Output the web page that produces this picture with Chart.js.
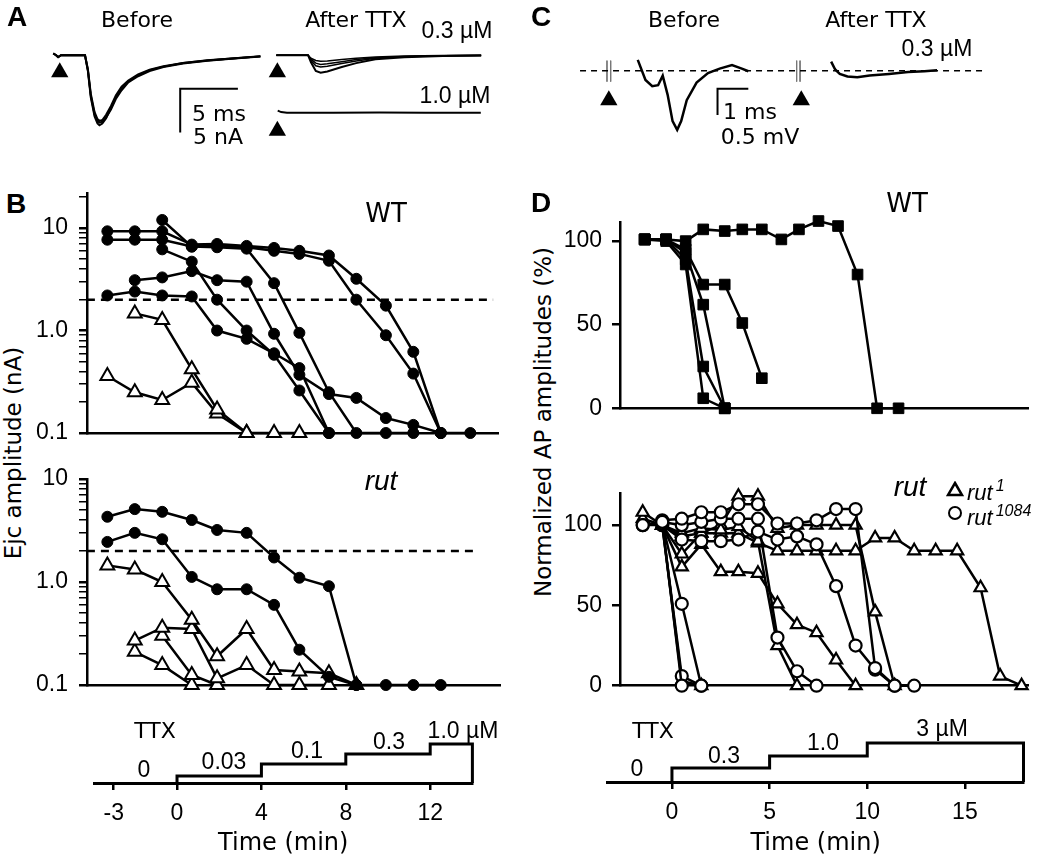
<!DOCTYPE html>
<html>
<head>
<meta charset="utf-8">
<script src="https://cdn.jsdelivr.net/npm/chart.js@4.4.0/dist/chart.umd.min.js"></script>
<style>
  html, body { margin: 0; padding: 0; background: #fff; }
  #fig { position: relative; width: 1050px; height: 855px; overflow: hidden; color: #000;
         font-family: 'Liberation Sans', Arial, sans-serif; }
  canvas { position: absolute; }
  .t { position: absolute; transform: translate(-50%, -50%); white-space: nowrap; line-height: 1; }
  .w { font-family: 'DejaVu Sans', sans-serif; font-size: 22px; }
  .n { font-size: 23px; }
  .p { font-weight: bold; font-size: 28px; }
  .it { font-style: italic; font-size: 28px; }
  .big { font-size: 26px; }
  .rot { font-size: 23px; transform: translate(-50%, -50%) rotate(-90deg); }
  .lg { position: absolute; font-size: 22px; line-height: 1; white-space: nowrap; font-style: italic; }
  .lg sup { font-size: 16px; vertical-align: 9px; margin-left: 3px; }
  .sym { position: absolute; }
</style>
</head>
<body>
<div id="fig">
  <canvas id="cA"></canvas>
  <canvas id="cC"></canvas>
  <canvas id="cB1"></canvas>
  <canvas id="cB2"></canvas>
  <canvas id="cB3"></canvas>
  <canvas id="cD1"></canvas>
  <canvas id="cD2"></canvas>
  <canvas id="cD3"></canvas>

  <!-- panel A -->
  <div class="t p" style="left:17px;top:17px">A</div>
  <div class="t w" style="left:137px;top:20px">Before</div>
  <div class="t w" style="left:356px;top:20px">After TTX</div>
  <div class="t n" style="left:457px;top:30px">0.3 µM</div>
  <div class="t n" style="left:455px;top:95px">1.0 µM</div>
  <div class="t w" style="left:219px;top:114px">5 ms</div>
  <div class="t w" style="left:218px;top:137px">5 nA</div>

  <!-- panel C -->
  <div class="t p" style="left:541px;top:17px">C</div>
  <div class="t w" style="left:684px;top:20px">Before</div>
  <div class="t w" style="left:876px;top:20px">After TTX</div>
  <div class="t n" style="left:937px;top:48px">0.3 µM</div>
  <div class="t w" style="left:750px;top:112px">1 ms</div>
  <div class="t w" style="left:760px;top:137px">0.5 mV</div>

  <!-- panel B -->
  <div class="t p" style="left:16px;top:204px">B</div>
  <div class="t w big" style="left:386px;top:213px">WT</div>
  <div class="t it" style="left:381px;top:481px">rut</div>
  <div class="t w rot" style="left:13px;top:453px">Ejc amplitude (nA)</div>
  <div class="t w" style="left:155px;top:731px">TTX</div>
  <div class="t n" style="left:144px;top:769px">0</div>
  <div class="t n" style="left:224px;top:761px">0.03</div>
  <div class="t n" style="left:307px;top:750px">0.1</div>
  <div class="t n" style="left:389px;top:741px">0.3</div>
  <div class="t n" style="left:463px;top:730px">1.0 µM</div>

  <!-- panel D -->
  <div class="t p" style="left:541px;top:203px">D</div>
  <div class="t w big" style="left:907px;top:203px">WT</div>
  <div class="t it" style="left:910px;top:487px">rut</div>
  <div class="t w rot" style="left:543px;top:422px">Normalized AP amplitudes (%)</div>
  <svg class="sym" style="left:946px;top:481px" width="18" height="16"><polygon points="9,2 16,14 2,14" fill="#fff" stroke="#000" stroke-width="2.5"/></svg>
  <div class="lg" style="left:967px;top:478px">rut<sup>1</sup></div>
  <svg class="sym" style="left:947px;top:505px" width="16" height="16"><circle cx="8" cy="8" r="6" fill="#fff" stroke="#000" stroke-width="2"/></svg>
  <div class="lg" style="left:967px;top:503px">rut<sup>1084</sup></div>
  <div class="t w" style="left:653px;top:731px">TTX</div>
  <div class="t n" style="left:637px;top:768px">0</div>
  <div class="t n" style="left:724px;top:755px">0.3</div>
  <div class="t n" style="left:823px;top:742px">1.0</div>
  <div class="t n" style="left:942px;top:728px">3 µM</div>
</div>

<script>
const _ = null;

// ---- Panel A: Ejc traces (ms, nA from baseline)
const aTime = [3.75, 4.0, 4.17, 4.42, 6.5, 6.75, 7.0, 7.33, 7.58, 7.75, 8.0, 8.33, 8.75, 9.17, 9.67, 10.25, 11.1, 12.1, 13.3, 15.0, 17.1, 19.2, 21.7];
const aBefore1 = [0.22, 0, -0.23, 0, 0, -1.8, -4.8, -7.0, -7.8, -8.0, -7.8, -7.2, -6.0, -4.8, -3.8, -3.0, -2.3, -1.7, -1.3, -0.9, -0.6, -0.38, -0.13];
const aBefore2 = [0.2, 0, -0.2, 0, 0, -1.7, -4.6, -6.8, -7.5, -7.7, -7.6, -7.1, -6.2, -5.0, -4.0, -3.1, -2.4, -1.8, -1.35, -0.95, -0.62, -0.4, -0.15];
const aBefore3 = [0.2, 0, -0.2, 0, 0, -1.6, -4.4, -6.5, -7.3, -7.5, -7.4, -6.8, -5.8, -4.6, -3.6, -2.9, -2.2, -1.65, -1.25, -0.88, -0.58, -0.36, -0.12];
const aAfterTime = [23.08, 25.83, 26.08, 26.5, 26.92, 27.5, 28.75, 30, 31.67, 34.17, 37.5, 40.83];
const aAfter1 = [0, 0, -0.8, -1.8, -2.0, -1.85, -1.35, -0.9, -0.45, -0.23, -0.08, -0.03];
const aAfter2 = [0, 0, -0.6, -1.2, -1.35, -1.25, -0.95, -0.65, -0.35, -0.18, -0.06, -0.02];
const aAfter3 = [0, 0, -0.45, -0.9, -1.05, -0.98, -0.75, -0.5, -0.28, -0.15, -0.05, -0.02];
const aAfter4 = [0, 0, -0.35, -0.6, -0.7, -0.65, -0.5, -0.35, -0.2, -0.1, -0.04, -0.01];
const aHighTime = [23.2, 23.5, 24, 28, 32, 36, 40.8];
const aHigh = [-6.33, -6.5, -6.56, -6.58, -6.55, -6.58, -6.56];
const aStimX = [4.31, 23.17, 23.17];
const aStimY = [-1.93, -1.93, -8.63];
const aBarX = [19.75, 14.75, 14.75];
const aBarY = [-3.83, -3.83, -8.83];

// ---- Panel C: field potential traces (ms, mV)
const cBeforeTime = [3.5, 3.75, 3.97, 4.16, 4.31, 4.47, 4.63, 4.78, 4.91, 5.09, 5.41, 5.78, 6.16, 6.56, 6.88, 7.09];
const cBefore = [0.205, -0.178, -0.295, -0.278, -0.095, -0.462, -0.962, -1.128, -0.962, -0.562, -0.228, -0.045, 0.038, 0.105, 0.038, -0.012];
const cAfterTime = [9.78, 9.91, 10.06, 10.31, 10.63, 11.03, 11.66, 12.28, 12.81, 13.22];
const cAfter = [0.172, 0.022, -0.062, -0.112, -0.128, -0.095, -0.062, -0.028, -0.012, 0.005];
const cBaseX = [1.625, 14.69];
const cBaseY = [0, 0];
const cStimX = [2.56, 8.81];
const cStimY = [-0.562, -0.562];
const cArtX = [2.5, 2.62, 8.66, 8.77];
const cBarX = [7.09, 6.09, 6.09];
const cBarY = [-0.345, -0.345, -0.845];

// ---- Panel B: Ejc amplitude (nA) vs time (min)
const bTime = [-3.3, -2, -0.7, 0.7, 1.9, 3.3, 4.6, 5.8, 7.2, 8.5, 9.9, 11.2, 12.5, 13.9];
const bWt1 = [9.3, 9.3, 9.3, 6.9, 7.0, 6.7, 6.4, 6.0, 5.4, 3.2, 1.75, 0.62, 0.1, 0.1];
const bWt2 = [7.7, 7.7, 7.7, 6.6, 6.8, 6.5, 6.0, 5.6, 4.8, 2.0, 0.9, 0.38, 0.1, _];
const bWt3 = [_, _, 12, 6.6, 6.5, 6.3, 2.9, 0.95, 0.25, 0.1, 0.1, 0.1, _, _];
const bWt4 = [_, 3.1, 3.3, 3.8, 3.1, 3.0, 0.93, 0.37, 0.24, 0.22, 0.14, 0.12, 0.1, _];
const bWt5 = [_, _, 6.2, 4.7, 2.0, 1.0, 0.58, 0.26, 0.1, _, _, _, _, _];
const bWt6 = [2.2, 2.4, 2.2, 2.15, 1.0, 0.83, 0.6, 0.43, 0.1, _, _, _, _, _];
const bWtTri1 = [_, 1.47, 1.27, 0.42, 0.17, 0.1, 0.1, 0.1, _, _, _, _, _, _];
const bWtTri2 = [0.36, 0.25, 0.21, 0.31, 0.155, 0.1, _, _, _, _, _, _, _, _];
const bRut1 = [4.3, 5.1, 4.8, 4.0, 3.2, 3.0, 1.73, 1.1, 0.91, 0.1, 0.1, 0.1, 0.1, _];
const bRut2 = [2.45, 3.0, 2.6, 1.12, 0.85, 0.85, 0.6, 0.22, 0.12, 0.1, _, _, _, _];
const bRutTri1 = [1.45, 1.32, 1.0, 0.43, 0.19, 0.35, 0.14, 0.135, 0.13, 0.1, _, _, _, _];
const bRutTri2 = [_, 0.27, 0.36, 0.35, 0.116, 0.156, 0.1, 0.1, 0.1, _, _, _, _, _];
const bRutTri3 = [_, _, 0.3, 0.125, 0.1, _, _, _, _, _, _, _, _, _];
const bRutTri4 = [_, 0.21, 0.156, 0.1, _, _, _, _, _, _, _, _, _, _];
const bThresh = 2;
const bThreshXWt = [-4.27, 14.98];
const bThreshXRut = [-4.27, 14.12];
const logTickVals = [0.1, 0.2, 0.3, 0.4, 0.5, 0.6, 0.7, 0.8, 0.9, 1, 2, 3, 4, 5, 6, 7, 8, 9, 10, 20];
const logLabelVals = [0.1, 1, 10];
const logLabels = ['0.1', '1.0', '10'];

// TTX protocol (B): step outline, heights are only drawing levels
const bStepT = [0, 0, 4, 4, 8, 8, 12, 12, 14, 14];
const bStepH = [0, 7, 7, 19, 19, 29, 29, 39, 39, 0];
const bStepTicks = [-3, 0, 4, 8, 12];
const bStepTickLabels = ['-3', '0', '4', '8', '12'];

// ---- Panel D: normalized AP amplitude (%) vs time (min)
const dTime = [-1.4, -0.3, 0.7, 1.6, 2.7, 3.6, 4.6, 5.6, 6.5, 7.5, 8.5, 9.5, 10.5, 11.6];
const dWt1 = [101, 101, 100, 107, 106, 107, 107, 101, 107, 112, 109, 80, 0, 0];
const dWt2 = [101, 101, 95, 74, 74, 51, 18, _, _, _, _, _, _, _];
const dWt3 = [101, 101, 93, 62, 0, _, _, _, _, _, _, _, _, _];
const dWt4 = [101, 101, 89, 25, 0, _, _, _, _, _, _, _, _, _];
const dWt5 = [101, 100, 86, 6, 0, _, _, _, _, _, _, _, _, _];
const dRutTime = [-1.5, -0.5, 0.5, 1.5, 2.5, 3.4, 4.4, 5.4, 6.4, 7.4, 8.4, 9.4, 10.4, 11.4, 12.4, 13.5, 14.6, 15.8, 16.8, 17.9];
const dRut1084a = [100, 102, 0, _, _, _, _, _, _, _, _, _, _, _, _, _, _, _, _, _];
const dRut1084b = [_, 101, 51, 0, _, _, _, _, _, _, _, _, _, _, _, _, _, _, _, _];
const dRut1084c = [_, 100, 6, 0, _, _, _, _, _, _, _, _, _, _, _, _, _, _, _, _];
const dRut1084d = [_, 103, 104, 108, 108, 113, 113, 101, 101, 103, 110, 110, 11, 0, 0, _, _, _, _, _];
const dRut1084e = [100, 100, 91, 90, 90, 91, 96, 91, 93, 88, 62, 25, 10, 0, _, _, _, _, _, _];
const dRut1084f = [_, 102, 100, 102, 104, 104, 104, 30, 9, 0, _, _, _, _, _, _, _, _, _, _];
const dRut1a = [108, 100, 3, 0, _, _, _, _, _, _, _, _, _, _, _, _, _, _, _, _];
const dRut1b = [104, 100, 74, 88, 71, 71, 70, 51, 38, 33, 16, 0, _, _, _, _, _, _, _, _];
const dRut1c = [_, 100, 95, 98, 97, 99, 90, 25, 0, _, _, _, _, _, _, _, _, _, _, _];
const dRut1d = [_, 100, 93, 95, 100, 118, 118, 98, 100, 100, 100, 100, 46, 0, _, _, _, _, _, _];
const dRut1e = [_, 100, 82, 95, 95, 95, 89, 84, 84, 84, 84, 84, 92, 92, 84, 84, 84, 61, 6, 0];
const dTickVals = [0, 50, 100];
const dTickLabels = ['0', '50', '100'];

// TTX protocol (D)
const dStepT = [0, 0, 5, 5, 10, 10, 18, 18];
const dStepH = [0, 14, 14, 26, 26, 39, 39, 0];
const dStepTicks = [0, 5, 10, 15];
const dStepTickLabels = ['0', '5', '10', '15'];

// ---------------------------------------------------------------
const black = '#000';
Chart.defaults.font.family = "'Liberation Sans', Arial, sans-serif";
Chart.defaults.font.size = 23;
Chart.defaults.color = black;

function pts(xs, ys) {
  return xs.map((x, i) => ({ x: x, y: ys[i] })).filter(p => p.y !== null && p.y !== undefined);
}

// force axis size and drop the label overflow padding
function fixSize(prop, size) {
  return s => {
    s[prop] = size;
    s.paddingTop = s.paddingBottom = s.paddingLeft = s.paddingRight = 0;
  };
}

function makeChart(id, cv, plot, yW, xH, datasets, scales) {
  const c = document.getElementById(id);
  c.width = cv.w; c.height = cv.h;
  c.style.left = cv.l + 'px'; c.style.top = cv.t + 'px';
  if (scales.x.display !== false) scales.x.afterFit = fixSize('height', xH);
  if (scales.y.display !== false) scales.y.afterFit = fixSize('width', yW);
  return new Chart(c, {
    type: 'line',
    data: { datasets: datasets },
    options: {
      responsive: false, animation: false, events: [], devicePixelRatio: 1,
      layout: { padding: {
        left: plot.l - cv.l - yW, top: plot.t - cv.t,
        right: cv.l + cv.w - plot.r, bottom: cv.t + cv.h - plot.b - xH } },
      plugins: { legend: { display: false }, tooltip: { enabled: false } },
      scales: scales
    }
  });
}

function line(xs, ys, extra) {
  return Object.assign({ data: pts(xs, ys), borderColor: black, borderWidth: 2.5,
    pointRadius: 0, clip: false, tension: 0, spanGaps: false }, extra || {});
}

const dot = { pointStyle: 'circle', pointRadius: 5.5, pointBackgroundColor: black, pointBorderColor: black, pointBorderWidth: 1 };
const openTri = { pointStyle: 'triangle', pointRadius: 8, pointBackgroundColor: '#fff', pointBorderColor: black, pointBorderWidth: 2 };
const sq = { pointStyle: 'rect', pointRadius: 7.5, pointBackgroundColor: black, pointBorderColor: black, pointBorderWidth: 1 };
const openTriS = { pointStyle: 'triangle', pointRadius: 7, pointBackgroundColor: '#fff', pointBorderColor: black, pointBorderWidth: 2.2 };
const openDot = { pointStyle: 'circle', pointRadius: 6, pointBackgroundColor: '#fff', pointBorderColor: black, pointBorderWidth: 2.2 };
const dash = { borderDash: [8, 6], borderWidth: 2.5 };

function hidden(min, max) { return { type: 'linear', display: false, min: min, max: max }; }
function bareX(min, max) {
  return { type: 'linear', min: min, max: max, ticks: { display: false }, grid: { display: false },
           border: { color: black, width: 2.5 } };
}
function logY(max) {
  return {
    type: 'logarithmic', min: 0.1, max: max,
    afterBuildTicks: s => { s.ticks = logTickVals.filter(v => v <= max).map(v => ({ value: v })); },
    ticks: { autoSkip: false, padding: 11,
             callback: v => { const i = logLabelVals.indexOf(v); return i < 0 ? '' : logLabels[i]; } },
    grid: { drawOnChartArea: false, tickLength: 8, color: black,
            lineWidth: c => (c.tick && logLabelVals.includes(c.tick.value)) ? 2.5 : 1.5 },
    border: { color: black, width: 2.5 }
  };
}
function linY(max) {
  return {
    type: 'linear', min: 0, max: max,
    afterBuildTicks: s => { s.ticks = dTickVals.map(v => ({ value: v })); },
    ticks: { autoSkip: false, padding: 10,
             callback: v => { const i = dTickVals.indexOf(v); return i < 0 ? '' : dTickLabels[i]; } },
    grid: { drawOnChartArea: false, tickLength: 8, color: black, lineWidth: 2.5 },
    border: { color: black, width: 2.5 }
  };
}
function stepX(min, max, tickVals, tickLabels) {
  return {
    type: 'linear', min: min, max: max,
    afterBuildTicks: s => { s.ticks = tickVals.map(v => ({ value: v })); },
    ticks: { autoSkip: false, padding: 10, maxRotation: 0,
             callback: v => { const i = tickVals.indexOf(v); return i < 0 ? '' : tickLabels[i]; } },
    grid: { drawOnChartArea: false, tickLength: 7, color: black, lineWidth: 2.5 },
    border: { color: black, width: 3 },
    title: { display: true, text: 'Time (min)', font: { family: "'DejaVu Sans', sans-serif", size: 24 },
             padding: { top: 0, bottom: 0 } }
  };
}

// ---- A
makeChart('cA', { l: 0, t: 0, w: 520, h: 160 }, { l: 0, t: 0, r: 520, b: 160 }, 0, 0, [
  line(aStimX, aStimY, { showLine: false, pointStyle: 'triangle', pointRadius: 10, pointBackgroundColor: black, pointBorderColor: black, pointBorderWidth: 0 }),
  line(aTime, aBefore1, { borderWidth: 2 }),
  line(aTime, aBefore2, { borderWidth: 2 }),
  line(aTime, aBefore3, { borderWidth: 2 }),
  line(aAfterTime, aAfter1, { borderWidth: 2 }),
  line(aAfterTime, aAfter2, { borderWidth: 1.5 }),
  line(aAfterTime, aAfter3, { borderWidth: 1.5 }),
  line(aAfterTime, aAfter4, { borderWidth: 1.5 }),
  line(aHighTime, aHigh, { borderWidth: 2 }),
  line(aBarX, aBarY, { borderWidth: 2 })
], { x: hidden(0, 43.33), y: hidden(-10.83, 5.17) });

// ---- C
makeChart('cC', { l: 520, t: 0, w: 530, h: 160 }, { l: 520, t: 0, r: 1050, b: 160 }, 0, 0, [
  line(cStimX, cStimY, { showLine: false, pointStyle: 'triangle', pointRadius: 10, pointBackgroundColor: black, pointBorderColor: black, pointBorderWidth: 0 }),
  line(cBeforeTime, cBefore, { borderWidth: 2.5 }),
  line(cAfterTime, cAfter, { borderWidth: 2.5 }),
  line(cBaseX, cBaseY, { borderWidth: 1.5, borderDash: [6, 5] }),
  line([cArtX[0], cArtX[0]], [0.19, -0.21], { borderWidth: 1, borderColor: '#777' }),
  line([cArtX[1], cArtX[1]], [0.19, -0.21], { borderWidth: 1, borderColor: '#777' }),
  line([cArtX[2], cArtX[2]], [0.19, -0.21], { borderWidth: 1, borderColor: '#777' }),
  line([cArtX[3], cArtX[3]], [0.19, -0.21], { borderWidth: 1, borderColor: '#777' }),
  line(cBarX, cBarY, { borderWidth: 2 })
], { x: hidden(0, 16.5625), y: hidden(-1.512, 1.155) });

// ---- B (WT)
makeChart('cB1', { l: 30, t: 180, w: 490, h: 270 }, { l: 87, t: 193, r: 498, b: 433 }, 56, 5, [
  line(bTime, bWt1, dot), line(bTime, bWt2, dot), line(bTime, bWt3, dot),
  line(bTime, bWt4, dot), line(bTime, bWt5, dot), line(bTime, bWt6, dot),
  line(bTime, bWtTri1, openTri), line(bTime, bWtTri2, openTri),
  line(bThreshXWt, [bThresh, bThresh], dash)
], { x: bareX(-4.265, 15.213), y: logY(22) });

// ---- B (rut)
makeChart('cB2', { l: 30, t: 465, w: 490, h: 235 }, { l: 87, t: 479, r: 500, b: 685 }, 56, 5, [
  line(bTime, bRut1, dot), line(bTime, bRut2, dot),
  line(bTime, bRutTri1, openTri), line(bTime, bRutTri2, openTri),
  line(bTime, bRutTri3, openTri), line(bTime, bRutTri4, openTri),
  line(bThreshXRut, [bThresh, bThresh], dash)
], { x: bareX(-4.265, 15.308), y: logY(10) });

// ---- B protocol (canvas runs a little past the page bottom, clipped by #fig)
makeChart('cB3', { l: 30, t: 700, w: 490, h: 158 }, { l: 94.1, t: 743, r: 472.4, b: 783 }, 0, 75, [
  line(bStepT, bStepH, { borderWidth: 3 })
], { x: stepX(-3.93, 14, bStepTicks, bStepTickLabels), y: hidden(0, 40) });

// ---- D (WT)
makeChart('cD1', { l: 560, t: 180, w: 490, h: 270 }, { l: 620, t: 222.7, r: 1028, b: 408.3 }, 60, 5, [
  line(dTime, dWt1, sq), line(dTime, dWt2, sq), line(dTime, dWt3, sq),
  line(dTime, dWt4, sq), line(dTime, dWt5, sq)
], { x: bareX(-2.663, 18.228), y: linY(111) });

// ---- D (rut)
makeChart('cD2', { l: 560, t: 465, w: 490, h: 235 }, { l: 620, t: 493, r: 1028, b: 685.7 }, 60, 5, [
  line(dRutTime, dRut1084a, openDot), line(dRutTime, dRut1084b, openDot),
  line(dRutTime, dRut1084c, openDot), line(dRutTime, dRut1084d, openDot),
  line(dRutTime, dRut1084e, openDot), line(dRutTime, dRut1084f, openDot),
  line(dRutTime, dRut1a, openTriS), line(dRutTime, dRut1b, openTriS),
  line(dRutTime, dRut1c, openTriS), line(dRutTime, dRut1d, openTriS),
  line(dRutTime, dRut1e, openTriS)
], { x: bareX(-2.663, 18.228), y: linY(120) });

// ---- D protocol
makeChart('cD3', { l: 560, t: 700, w: 490, h: 158 }, { l: 607.7, t: 742, r: 1023.5, b: 782 }, 0, 76, [
  line(dStepT, dStepH, { borderWidth: 3 })
], { x: stepX(-3.29, 18, dStepTicks, dStepTickLabels), y: hidden(0, 40) });
</script>
</body>
</html>
